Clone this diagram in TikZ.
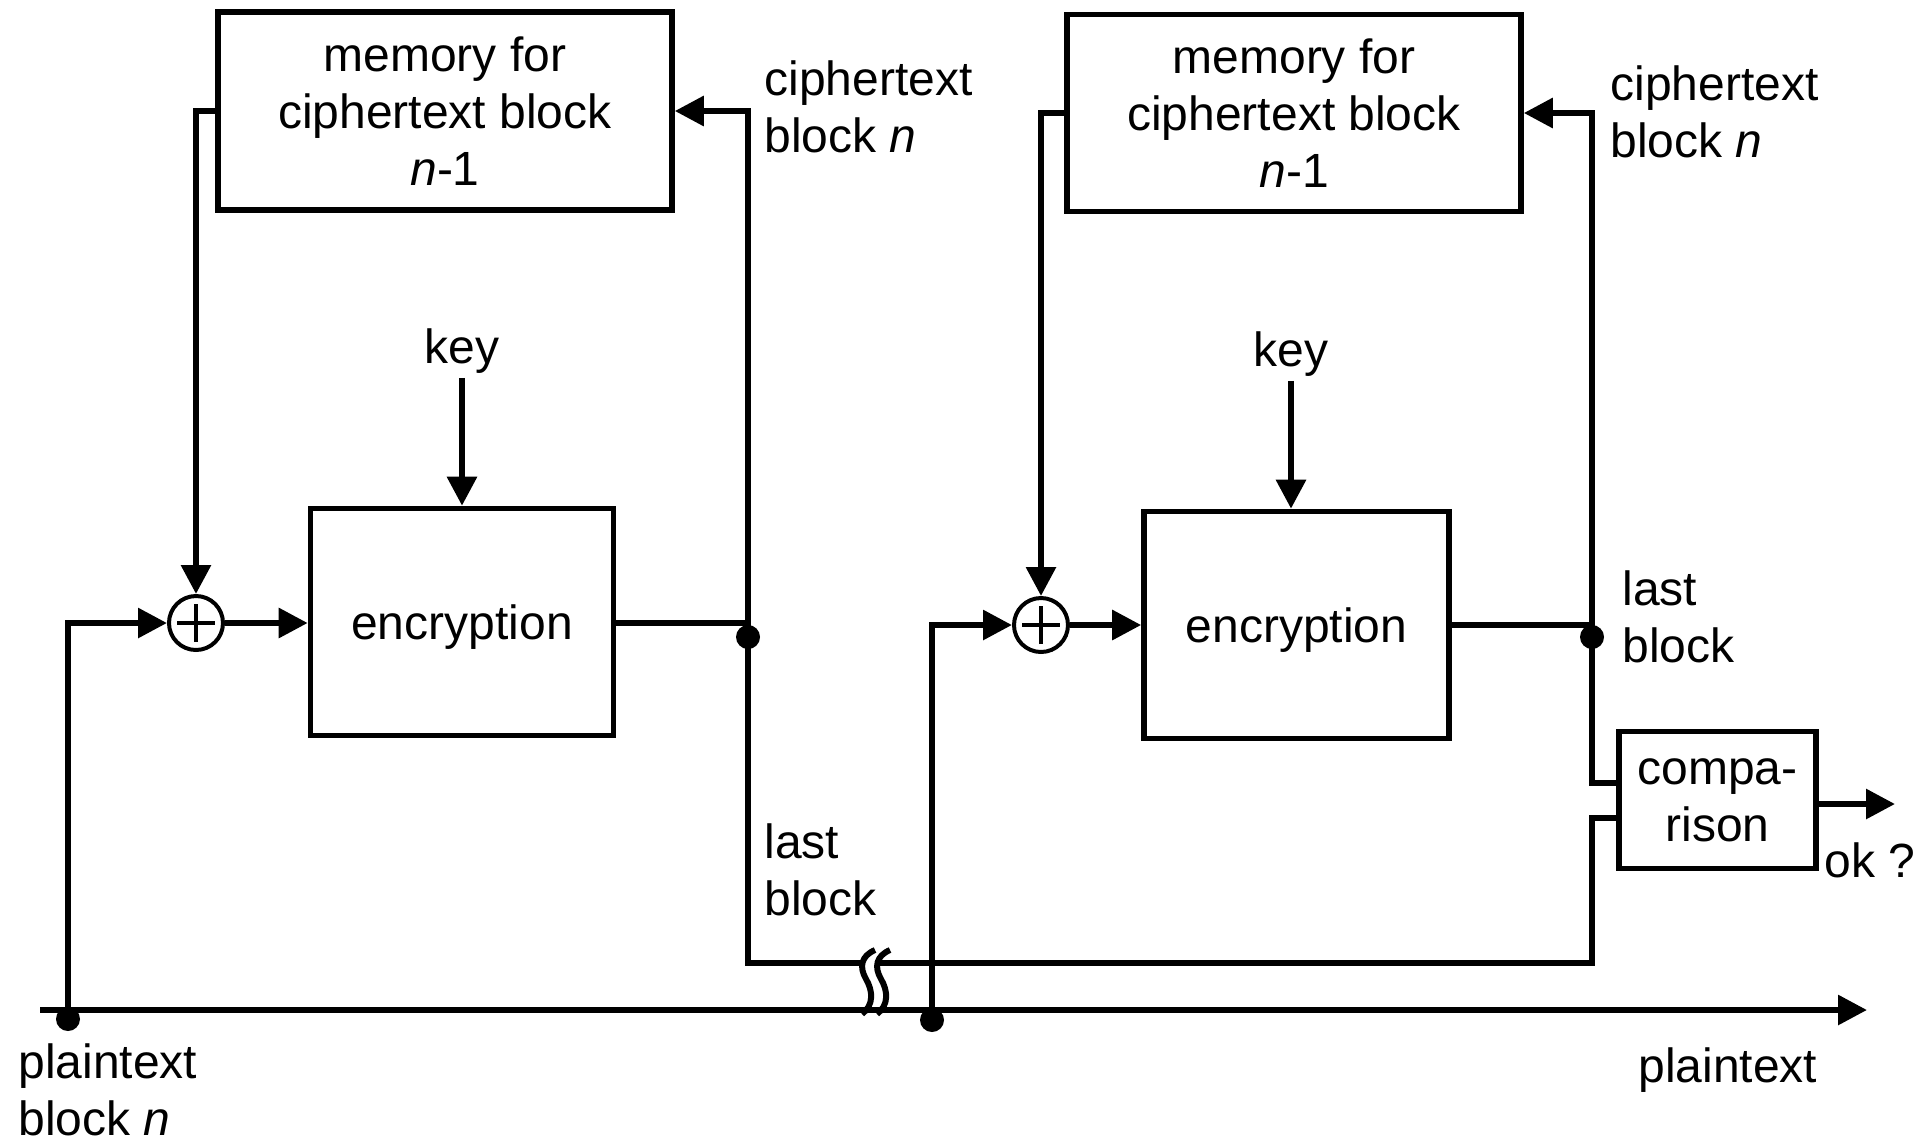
\documentclass[tikz,border=0pt]{standalone}
\usepackage{fontspec}
\setmainfont{Liberation Sans}
\usetikzlibrary{arrows.meta}
\begin{document}
\begin{tikzpicture}[x=0.5pt,y=-0.5pt,
  every node/.style={font=\fontsize{24}{28.5}\selectfont},
  wire/.style={line width=3pt},
  arr/.style={wire,-{Triangle[length=14.5pt,width=14.5pt]}},
  blk/.style={draw,line width=2.8pt,align=center,inner sep=0pt},
  encbox/.style={blk,text depth=0pt,minimum height=113.5pt},
  lbl/.style={inner sep=0pt,align=left,anchor=west},
  xorop/.style={draw,circle,line width=2pt,minimum size=27pt,inner sep=0pt},
  plus/.style={line width=2pt},
  dot/.style={circle,fill,inner sep=0pt,minimum size=12pt}]
\useasboundingbox (0,0) rectangle (1917,1142);

% ---- encrypting side ----
\node[blk,minimum width=227pt,minimum height=99pt] (mem1) at (445,111)
  {memory for\\ciphertext block\\\textit{n}-1};
\node[encbox,minimum width=151.5pt] (enc1) at (462,622) {encryption};
\node[xorop] (xor1) at (196,623) {};
\draw[plus] ([xshift=-9.5pt]xor1.center) -- ([xshift=9.5pt]xor1.center)
  ([yshift=-9.5pt]xor1.center) -- ([yshift=9.5pt]xor1.center);
\node[inner sep=2pt] (key1) at (462,351) {key};

% ---- checking side ----
\node[blk,minimum width=227pt,minimum height=98.5pt] (mem2) at (1294,113)
  {memory for\\ciphertext block\\\textit{n}-1};
\node[encbox,minimum width=152.5pt] (enc2) at (1296.5,625) {encryption};
\node[xorop] (xor2) at (1041,625) {};
\draw[plus] ([xshift=-9.5pt]xor2.center) -- ([xshift=9.5pt]xor2.center)
  ([yshift=-9.5pt]xor2.center) -- ([yshift=9.5pt]xor2.center);
\node[inner sep=2pt] (key2) at (1291,354) {key};
\node[blk,minimum width=98.5pt,minimum height=68.5pt] (comp) at (1717.5,800) {compa-\\rison};

% ---- labels ----
\node[lbl] (lc1) at (764,107) {ciphertext\\block \textit{n}};
\node[lbl] (lc2) at (1610,112) {ciphertext\\block \textit{n}};
\node[lbl] (ll1) at (764,870) {last\\block};
\node[lbl] (ll2) at (1622,617) {last\\block};
\node[lbl] (lp1) at (18,1090) {plaintext\\block \textit{n}};
\node[lbl] (lp2) at (1638,1070) {plaintext};
\node[lbl] (lok) at (1824,860) {ok ?};

% ---- connection points ----
\coordinate (mstart) at (40,1010);
\coordinate (mend) at (1867,1010);
\coordinate (tap1) at (68,1010);
\coordinate (tap2) at (932,1010);
\coordinate (j1) at (748,623);
\coordinate (lb1) at (748,963);
\coordinate (brkL) at (863,963);
\coordinate (brkR) at (878,963);
\coordinate (lb2) at (1592,963);
\coordinate (j2) at (1592,625);
\coordinate (r2low) at (1592,783);
\coordinate (cmpin1) at (1619,783);
\coordinate (cmpin2) at (1619,818);
\coordinate (cmpout) at (1816,804);
\coordinate (okend) at (1895,804);

% ---- wires ----
\draw[arr] (mstart) -- (mend);
\draw[arr] (tap1) |- (xor1.west);
\draw[arr] (xor1.east) -- (xor1.east -| enc1.west);
\draw[arr] (key1.south) -- (key1.south |- enc1.north);
\draw[arr] (mem1.west) -| (xor1.north);
\draw[wire] (enc1.east |- j1) -- (j1);
\draw[arr] (brkL) -- (lb1) |- (mem1.east);

\draw[arr] (tap2) |- (xor2.west);
\draw[arr] (xor2.east) -- (xor2.east -| enc2.west);
\draw[arr] (key2.south) -- (key2.south |- enc2.north);
\draw[arr] (mem2.west) -| (xor2.north);
\draw[wire] (enc2.east |- j2) -- (j2);
\draw[arr] (cmpin1) -- (r2low) |- (mem2.east);
\draw[wire] (brkR) -- (lb2) |- (cmpin2);
\draw[arr] (cmpout) -- (okend);

% ---- line break mark ----
\draw[wire] (875,950) .. controls (861,956) and (859,967) .. (866,979)
  .. controls (873,991) and (874,1005) .. (862,1014);
\draw[wire] (890,950) .. controls (876,956) and (874,967) .. (881,979)
  .. controls (888,991) and (889,1005) .. (877,1014);

% ---- junction dots ----
\node[dot] (d1) at (68,1019) {};
\node[dot] (d2) at (932,1020) {};
\node[dot] (d3) at (748,637) {};
\node[dot] (d4) at (1592,637) {};
\end{tikzpicture}
\end{document}
